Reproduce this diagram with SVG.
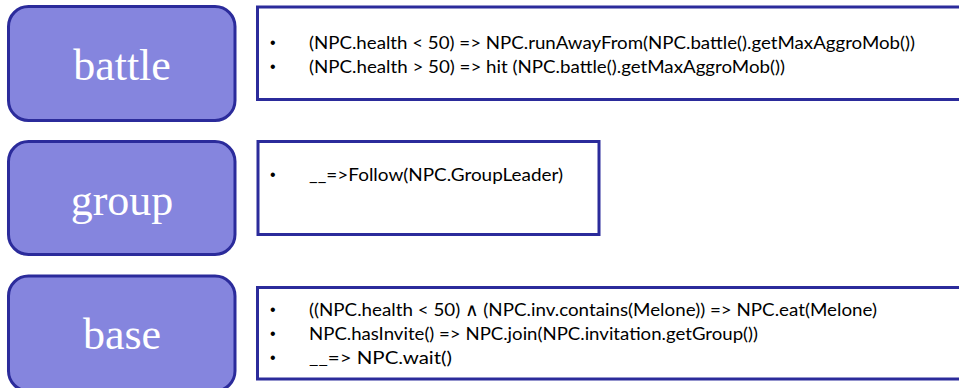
<svg xmlns="http://www.w3.org/2000/svg" width="959" height="388" viewBox="0 0 959 388">
<style>
.layer{fill:#8585de;stroke:#2b2b9b;stroke-width:3}
.rules{fill:#ffffff;stroke:#2b2b9b;stroke-width:3}
.title{font-family:"Liberation Serif","Times New Roman",serif;font-size:44px;fill:#ffffff;text-anchor:middle}
.item{font-family:Lato,"Liberation Sans",Arial,sans-serif;font-size:18px;fill:#000000}
.bullet{font-family:"Liberation Sans",Arial,sans-serif;font-size:16px;fill:#000000}
</style>
<rect width="959" height="388" fill="#ffffff"/>
<g id="connectors"/>
<g id="battle">
<rect class="layer" x="8.5" y="6.5" width="226.5" height="114" rx="20"/>
<text class="title" x="122" y="80">battle</text>
</g>
<g id="battle-rules">
<rect class="rules" x="257.5" y="7" width="720" height="92.5"/>
<text class="bullet" x="270" y="48">•</text>
<text class="item" x="309" y="49" textLength="606" lengthAdjust="spacingAndGlyphs">(NPC.health &lt; 50) =&gt; NPC.runAwayFrom(NPC.battle().getMaxAggroMob())</text>
<text class="bullet" x="270" y="72">•</text>
<text class="item" x="309" y="73" textLength="476" lengthAdjust="spacingAndGlyphs">(NPC.health &gt; 50) =&gt; hit (NPC.battle().getMaxAggroMob())</text>
</g>
<g id="group">
<rect class="layer" x="8.5" y="141.5" width="226.5" height="113" rx="20"/>
<text class="title" x="122" y="215">group</text>
</g>
<g id="group-rules">
<rect class="rules" x="258" y="141.5" width="341" height="93"/>
<text class="bullet" x="270" y="180">•</text>
<text class="item" x="309" y="181" textLength="254" lengthAdjust="spacingAndGlyphs">__=&gt;Follow(NPC.GroupLeader)</text>
</g>
<g id="base">
<rect class="layer" x="8.5" y="276" width="226.5" height="115" rx="20"/>
<text class="title" x="122" y="349">base</text>
</g>
<g id="base-rules">
<rect class="rules" x="257.5" y="287.5" width="720" height="91.5"/>
<text class="bullet" x="270" y="315">•</text>
<text class="item" x="309" y="316" textLength="568" lengthAdjust="spacingAndGlyphs">((NPC.health &lt; 50) ∧ (NPC.inv.contains(Melone)) =&gt; NPC.eat(Melone)</text>
<text class="bullet" x="270" y="339">•</text>
<text class="item" x="309" y="340" textLength="449" lengthAdjust="spacingAndGlyphs">NPC.hasInvite() =&gt; NPC.join(NPC.invitation.getGroup())</text>
<text class="bullet" x="270" y="363">•</text>
<text class="item" x="309" y="364" textLength="143" lengthAdjust="spacingAndGlyphs">__=&gt; NPC.wait()</text>
</g>
</svg>
